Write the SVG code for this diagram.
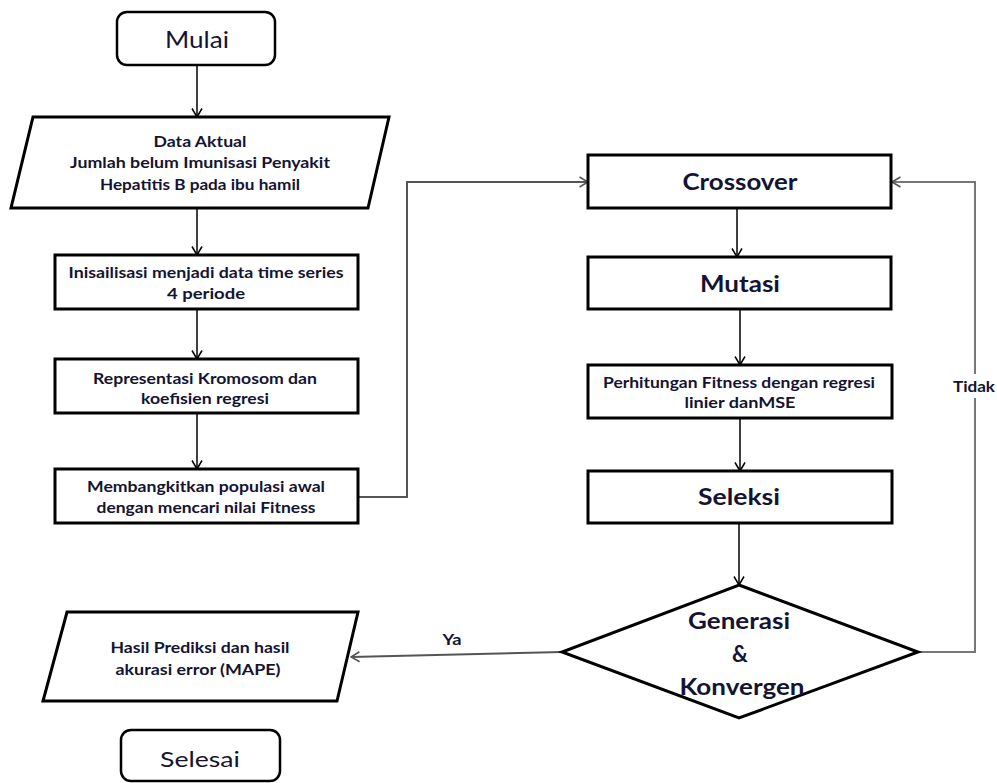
<svg xmlns="http://www.w3.org/2000/svg" width="997" height="783" viewBox="0 0 997 783">
<defs>
<style>
.box{fill:#fff;stroke:#000;stroke-width:3}
.term{fill:#fff;stroke:#000;stroke-width:2.5}
.t{font-family:Lato,"Liberation Sans",sans-serif;fill:#141432;text-anchor:middle}
.b{font-weight:bold}
.s15{font-size:16px}
.s22{font-size:22px}
.dn{fill:none;stroke:#000;stroke-width:1.5}
.lp{fill:none;stroke:#555;stroke-width:2}
.lp2{fill:none;stroke:#777;stroke-width:2}
</style>
<marker id="ah" viewBox="0 0 10 12" refX="9.5" refY="6" markerWidth="10" markerHeight="12" markerUnits="userSpaceOnUse" orient="auto">
<path d="M1,1 L9.5,6 L1,11" fill="none" stroke="#000" stroke-width="1.5"/>
</marker>
<marker id="ahg" viewBox="0 0 10 12" refX="9.5" refY="6" markerWidth="10" markerHeight="12" markerUnits="userSpaceOnUse" orient="auto">
<path d="M1,1 L9.5,6 L1,11" fill="none" stroke="#555" stroke-width="1.6"/>
</marker>
</defs>
<rect width="997" height="783" fill="#fff"/>

<g id="connectors">
<line class="dn" x1="197" y1="65" x2="197" y2="117" marker-end="url(#ah)"/>
<line class="dn" x1="197" y1="208" x2="197" y2="255" marker-end="url(#ah)"/>
<line class="dn" x1="197" y1="309" x2="197" y2="359" marker-end="url(#ah)"/>
<line class="dn" x1="197" y1="413" x2="197" y2="469" marker-end="url(#ah)"/>
<polyline class="lp" points="358,497 407,497 407,182 588,182" marker-end="url(#ahg)"/>
<line class="dn" x1="737" y1="208" x2="737" y2="257" marker-end="url(#ah)"/>
<line class="dn" x1="740" y1="309" x2="740" y2="365" marker-end="url(#ah)"/>
<line class="dn" x1="740" y1="418" x2="740" y2="471" marker-end="url(#ah)"/>
<line class="dn" x1="739" y1="523" x2="739" y2="585" marker-end="url(#ah)"/>
<line class="lp" x1="562" y1="652" x2="351" y2="657" marker-end="url(#ahg)"/>
<polyline class="lp2" points="918,652 975,652 975,398"/>
<polyline class="lp2" points="975,374 975,182 892,182" marker-end="url(#ahg)"/>
<text class="t b" x="452" y="645" font-size="16" textLength="19" lengthAdjust="spacingAndGlyphs">Ya</text>
<text class="t b" x="974" y="392" font-size="16" textLength="42" lengthAdjust="spacingAndGlyphs">Tidak</text>
</g>

<g id="mulai">
<rect class="term" x="117" y="12" width="158" height="53" rx="10"/>
<text class="t" x="197" y="48" font-size="24" textLength="64" lengthAdjust="spacingAndGlyphs">Mulai</text>
</g>

<g id="data-aktual">
<polygon class="box" points="33,117 389,117 368,208 11,208"/>
<text class="t b s15" x="200" y="147" textLength="93" lengthAdjust="spacingAndGlyphs">Data Aktual</text>
<text class="t b s15" x="200" y="168" textLength="260" lengthAdjust="spacingAndGlyphs">Jumlah belum Imunisasi Penyakit</text>
<text class="t b s15" x="200" y="190" textLength="200" lengthAdjust="spacingAndGlyphs">Hepatitis B pada ibu hamil</text>
</g>

<g id="inisialisasi">
<rect class="box" x="55" y="255" width="303" height="54"/>
<text class="t b s15" x="206" y="278" textLength="275" lengthAdjust="spacingAndGlyphs">Inisailisasi menjadi data time series</text>
<text class="t b s15" x="206" y="299" textLength="78" lengthAdjust="spacingAndGlyphs">4 periode</text>
</g>

<g id="representasi">
<rect class="box" x="55" y="359" width="303" height="54"/>
<text class="t b s15" x="205" y="384" textLength="224" lengthAdjust="spacingAndGlyphs">Representasi Kromosom dan</text>
<text class="t b s15" x="205" y="404" textLength="128" lengthAdjust="spacingAndGlyphs">koefisien regresi</text>
</g>

<g id="membangkitkan">
<rect class="box" x="55" y="469" width="303" height="54"/>
<text class="t b s15" x="206" y="492" textLength="238" lengthAdjust="spacingAndGlyphs">Membangkitkan populasi awal</text>
<text class="t b s15" x="206" y="513" textLength="219" lengthAdjust="spacingAndGlyphs">dengan mencari nilai Fitness</text>
</g>

<g id="crossover">
<rect class="box" x="588" y="155" width="303" height="53"/>
<text class="t b s22" x="740" y="190" textLength="115" lengthAdjust="spacingAndGlyphs">Crossover</text>
</g>

<g id="mutasi">
<rect class="box" x="588" y="257" width="303" height="52"/>
<text class="t b s22" x="740" y="292" textLength="80" lengthAdjust="spacingAndGlyphs">Mutasi</text>
</g>

<g id="perhitungan">
<rect class="box" x="588" y="365" width="304" height="53"/>
<text class="t b s15" x="739" y="388" textLength="272" lengthAdjust="spacingAndGlyphs">Perhitungan Fitness dengan regresi</text>
<text class="t b s15" x="740" y="408" textLength="111" lengthAdjust="spacingAndGlyphs">linier danMSE</text>
</g>

<g id="seleksi">
<rect class="box" x="588" y="471" width="304" height="52"/>
<text class="t b s22" x="739" y="505" textLength="82" lengthAdjust="spacingAndGlyphs">Seleksi</text>
</g>

<g id="generasi">
<polygon class="box" points="739,585 918,652 739,718 562,652"/>
<text class="t b s22" x="739" y="629" textLength="102" lengthAdjust="spacingAndGlyphs">Generasi</text>
<text class="t b s22" x="740" y="662">&amp;</text>
<text class="t b s22" x="742" y="695" textLength="125" lengthAdjust="spacingAndGlyphs">Konvergen</text>
</g>

<g id="hasil">
<polygon class="box" points="67,612 358,612 337,701 43,701"/>
<text class="t b" x="200" y="653" font-size="15" textLength="179" lengthAdjust="spacingAndGlyphs">Hasil Prediksi dan hasil</text>
<text class="t b" x="198" y="675" font-size="15" textLength="165" lengthAdjust="spacingAndGlyphs">akurasi error (MAPE)</text>
</g>

<g id="selesai">
<rect class="term" x="121" y="730" width="159" height="51" rx="10"/>
<text class="t" x="200" y="767" font-size="22" textLength="80" lengthAdjust="spacingAndGlyphs">Selesai</text>
</g>
</svg>
